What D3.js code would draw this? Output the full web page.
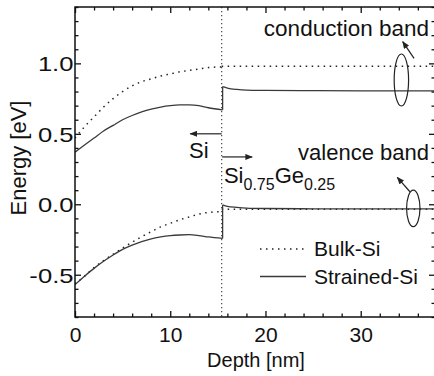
<!DOCTYPE html>
<html><head><meta charset="utf-8">
<script src="https://cdn.jsdelivr.net/npm/d3@7"></script>
<style>
html,body{margin:0;padding:0;background:#fff;}
svg{display:block;font-family:"Liberation Sans",Arial,Helvetica,sans-serif;}
</style></head><body>
<svg id="c" width="434" height="376"></svg>
<script>
// ---- data (depth in nm, energy in eV) ----
const depthSi = [0,1,2,3,4,5,6,7,8,9,10,11,12,13,14,15.4];
const bulkCondSi = [0.47,0.55,0.62,0.69,0.75,0.80,0.84,0.87,0.89,0.91,0.925,0.94,0.95,0.96,0.97,0.975];
const bulkValSi  = [-0.565,-0.51,-0.45,-0.40,-0.355,-0.31,-0.27,-0.23,-0.195,-0.16,-0.135,-0.11,-0.09,-0.07,-0.058,-0.053];
const depthBulkSiGe = [15.4, 37.8];
const bulkCondSiGe = [0.98, 0.98];
const bulkValSiGe  = [-0.035, -0.035];

const depthStrSi = [0,1,2,3,4,5,6,7,8,9,10,11,12,13,14,15.5];
const strCondSi = [0.37,0.42,0.47,0.52,0.56,0.60,0.63,0.655,0.675,0.69,0.70,0.705,0.705,0.70,0.685,0.67];
const strValSi  = [-0.57,-0.51,-0.455,-0.405,-0.36,-0.32,-0.29,-0.265,-0.245,-0.232,-0.223,-0.218,-0.216,-0.222,-0.232,-0.242];
const depthStrSiGe = [15.5,16,17,18,20,25,30,37.8];
const strCondSiGe = [0.835,0.825,0.815,0.81,0.808,0.806,0.805,0.805];
const strValSiGe  = [-0.005,-0.015,-0.022,-0.027,-0.03,-0.032,-0.033,-0.033];

const interfaceDepth = 15.4;

const xMajorTicks = [0,10,20,30];
const xTickLabels = ["0","10","20","30"];
const xMinorTicks = [2,4,6,8,12,14,16,18,22,24,26,28,32,34,36];
const yMajorTicks = [-0.5,0,0.5,1.0];
const yTickLabels = ["-0.5","0.0","0.5","1.0"];
const yMinorTicks = [-0.8,-0.7,-0.6,-0.4,-0.3,-0.2,-0.1,0.1,0.2,0.3,0.4,0.6,0.7,0.8,0.9,1.1,1.2,1.3,1.4];

const legendLabels = ["Bulk-Si","Strained-Si"];

// ---- layout ----
const L = 75, R = 435, T = 7, B = 317;
const x = d3.scaleLinear().domain([0,37.8]).range([L,R]);
const y = d3.scaleLinear().domain([-0.8,1.4]).range([B,T]);

const svg = d3.select("#c");
const ink = "#111";

const defs = svg.append("defs");
defs.append("marker").attr("id","ah").attr("viewBox","0 0 10 8")
  .attr("refX",9).attr("refY",4).attr("markerWidth",8).attr("markerHeight",6)
  .attr("markerUnits","userSpaceOnUse").attr("orient","auto")
  .append("path").attr("d","M0,0 L10,4 L0,8 z").attr("fill","#222");

const clip = defs.append("clipPath").attr("id","pc");
clip.append("rect").attr("x",L).attr("y",T).attr("width",R-L).attr("height",B-T);

// ---- curves ----
const line = d3.line().x(d=>x(d[0])).y(d=>y(d[1])).curve(d3.curveMonotoneX);
const zip = (a,b)=>a.map((v,i)=>[v,b[i]]);
const g = svg.append("g").attr("clip-path","url(#pc)");

// interface
g.append("line").attr("x1",x(interfaceDepth)).attr("x2",x(interfaceDepth))
  .attr("y1",y(1.4)).attr("y2",y(-0.8))
  .attr("stroke","#444").attr("stroke-width",1.2).attr("stroke-dasharray","1.2,2.8");

const dotted = {stroke:"#222","stroke-width":1.5,"stroke-dasharray":"1.5,4.5",fill:"none"};
const solid = {stroke:"#3a3a3a","stroke-width":1.3,fill:"none"};
function draw(data, st){
  const p = g.append("path").attr("d", line(data));
  for (const k in st) p.attr(k, st[k]);
  return p;
}
draw(zip(depthSi,bulkCondSi), dotted);
draw(zip(depthSi,bulkValSi), dotted);
draw(zip(depthBulkSiGe,bulkCondSiGe), dotted);
draw(zip(depthBulkSiGe,bulkValSiGe), dotted);
draw(zip(depthStrSi,strCondSi), solid);
draw(zip(depthStrSi,strValSi), solid);
draw(zip(depthStrSiGe,strCondSiGe), solid);
draw(zip(depthStrSiGe,strValSiGe), solid);
// band steps at the interface
[[strCondSi, strCondSiGe],[strValSi, strValSiGe]].forEach(([a,b])=>{
  g.append("line").attr("x1",x(depthStrSi[depthStrSi.length-1])).attr("x2",x(depthStrSiGe[0]))
   .attr("y1",y(a[a.length-1])).attr("y2",y(b[0]))
   .attr("stroke","#3a3a3a").attr("stroke-width",1.3);
});

// ---- axes ----
function axis(gen, tr, vals, size, labels){
  const a = svg.append("g").attr("transform",tr)
    .call(gen.tickValues(vals).tickSize(size).tickSizeOuter(0)
      .tickFormat((d,i)=>labels? labels[i] : ""));
  a.select(".domain").remove();
  a.selectAll(".tick line").attr("stroke",ink).attr("stroke-width",1.3);
  return a;
}
const xb = axis(d3.axisBottom(x), `translate(0,${B})`, xMajorTicks, -6, xTickLabels);
axis(d3.axisBottom(x), `translate(0,${B})`, xMinorTicks, -3.5);
axis(d3.axisTop(x), `translate(0,${T})`, xMajorTicks, -6);
axis(d3.axisTop(x), `translate(0,${T})`, xMinorTicks, -3.5);
const yl = axis(d3.axisLeft(y), `translate(${L},0)`, yMajorTicks, -6, yTickLabels);
axis(d3.axisLeft(y), `translate(${L},0)`, yMinorTicks, -3.5);
axis(d3.axisRight(y), `translate(${R},0)`, yMajorTicks, -6);
axis(d3.axisRight(y), `translate(${R},0)`, yMinorTicks, -3.5);

xb.selectAll(".tick text").attr("font-size",21).attr("fill",ink)
  .attr("font-family","Liberation Sans, Arial, sans-serif").attr("dy",null).attr("y",25);
yl.selectAll(".tick text").attr("font-size",21).attr("fill",ink)
  .attr("font-family","Liberation Sans, Arial, sans-serif").attr("x",-1.5).attr("dy","0.36em")
  .each(function(){
    const w = this.getComputedTextLength();
    d3.select(this).attr("textLength", w*1.22).attr("lengthAdjust","spacingAndGlyphs");
  });

svg.append("rect").attr("x",L).attr("y",T).attr("width",R-L).attr("height",B-T)
  .attr("fill","none").attr("stroke",ink).attr("stroke-width",1.5);

// ---- axis titles ----
svg.append("text").attr("x",256).attr("y",367).attr("text-anchor","middle")
  .attr("font-size",20).attr("fill",ink).text("Depth [nm]");
svg.append("text").attr("transform","translate(26,158) rotate(-90)").attr("text-anchor","middle")
  .attr("font-size",22).attr("fill",ink).text("Energy [eV]");

// ---- annotations ----
const txt = (xd,yd,s,anchor)=>svg.append("text").attr("x",x(xd)).attr("y",y(yd))
  .attr("text-anchor",anchor||"start").attr("font-size",22).attr("fill",ink).text(s);
txt(37.17,1.196,"conduction band","end").attr("font-size",22.5);
txt(37.17,0.314,"valence band","end");
txt(11.97,0.328,"Si");
const sg = txt(15.64,0.151,"");
sg.append("tspan").text("Si");
sg.append("tspan").attr("font-size",16).attr("dy",7).text("0.75");
sg.append("tspan").attr("dy",-7).text("Ge");
sg.append("tspan").attr("font-size",16).attr("dy",7).text("0.25");

function arrow(x1,y1,x2,y2){
  svg.append("line").attr("x1",x(x1)).attr("y1",y(y1)).attr("x2",x(x2)).attr("y2",y(y2))
    .attr("stroke","#222").attr("stroke-width",1.2).attr("marker-end","url(#ah)");
}
arrow(15.4,0.5,12.1,0.5);
arrow(15.45,0.336,18.6,0.336);
arrow(35.6,1.036,34.41,1.154);
arrow(35.17,0.089,33.84,0.191);

svg.append("ellipse").attr("cx",x(34.27)).attr("cy",y(0.882)).attr("rx",7.2).attr("ry",26)
  .attr("fill","none").attr("stroke","#222").attr("stroke-width",1.2);
svg.append("ellipse").attr("cx",x(35.52)).attr("cy",y(-0.029)).attr("rx",6.7).attr("ry",18.3)
  .attr("fill","none").attr("stroke","#222").attr("stroke-width",1.2);

// ---- legend ----
const lg = svg.append("g").attr("transform","translate(260,249)");
[dotted, solid].forEach((st,i)=>{
  const l = lg.append("line").attr("x1",0).attr("x2",46).attr("y1",i*27.5).attr("y2",i*27.5);
  for (const k in st) l.attr(k, st[k]);
  lg.append("text").attr("x",54).attr("y",i*27.5+7.3).attr("font-size",21).attr("fill",ink)
    .text(legendLabels[i]);
});
</script>
</body></html>
